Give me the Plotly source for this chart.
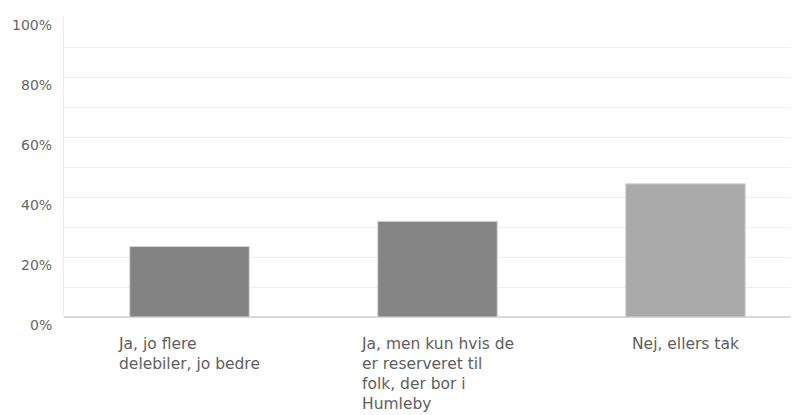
import plotly.graph_objects as go

categories = [
    "Ja, jo flere<br>delebiler, jo bedre",
    "Ja, men kun hvis de<br>er reserveret til<br>folk, der bor i<br>Humleby",
    "Nej, ellers tak",
]
values = [23.5, 31.9, 44.4]
bar_colors = ["#838383", "#858585", "#aaaaaa"]
y_tick_vals = [0, 20, 40, 60, 80, 100]
y_tick_text = ["0%", "20%", "40%", "60%", "80%", "100%"]

FONT = "DejaVu Sans, sans-serif"
xs = list(range(len(categories)))

fig = go.Figure()
fig.add_trace(go.Bar(
    x=xs, y=values, width=0.482,
    marker=dict(color=bar_colors, line=dict(color="#d6d6d6", width=1)),
    hoverinfo="skip",
))

annotations = []
for x, label in zip(xs, categories):
    annotations.append(dict(
        x=x, y=0, xref="x", yref="y", text=label, showarrow=False,
        xanchor="center", yanchor="top", align="left", yshift=-16,
        font=dict(family=FONT, size=15.5, color="#5e5e5e"),
    ))
for v, t in zip(y_tick_vals, y_tick_text):
    annotations.append(dict(
        x=0, xref="paper", xshift=-10, y=v, yref="y", text=t, showarrow=False,
        xanchor="right", yanchor="middle", yshift=-7.5,
        font=dict(family=FONT, size=14, color="#666666"),
    ))

fig.update_layout(
    width=799, height=415,
    margin=dict(l=56, r=0, t=9, b=106),
    paper_bgcolor="white", plot_bgcolor="white",
    showlegend=False,
    annotations=annotations,
    xaxis=dict(range=[-0.506, 2.49], showticklabels=False, showgrid=False,
               zeroline=False, showline=False, ticks=""),
    yaxis=dict(range=[0, 100], tickvals=list(range(0, 101, 10)), showticklabels=False,
               showgrid=True, gridcolor="#f0f0f0", gridwidth=1,
               zeroline=True, zerolinecolor="#d9d9d9", zerolinewidth=2,
               showline=True, linecolor="#ececec", linewidth=1, ticks=""),
)

fig.write_html("out.html")
